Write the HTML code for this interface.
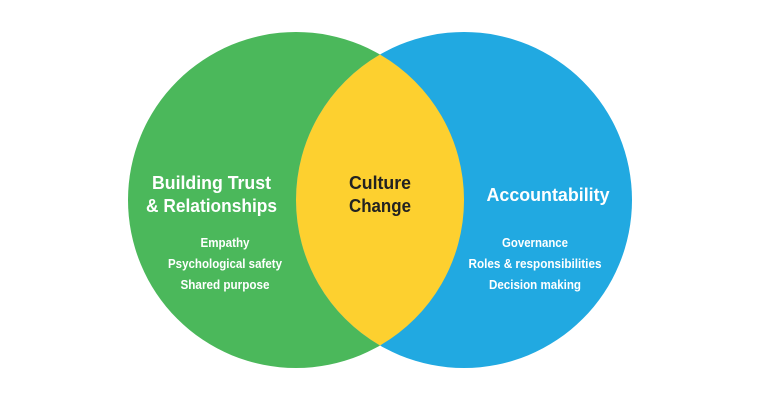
<!DOCTYPE html>
<html><head><meta charset="utf-8"><style>
html,body{margin:0;padding:0;background:#fff}
svg{display:block}
text{font-family:"Liberation Sans",sans-serif;font-weight:bold;text-anchor:middle}
</style></head><body>
<svg width="760" height="400" viewBox="0 0 760 400">
<circle cx="296" cy="200" r="168" fill="#4bb85b"/>
<circle cx="464" cy="200" r="168" fill="#21a9e1"/>
<path d="M380 54.5 A168 168 0 0 1 380 345.5 A168 168 0 0 1 380 54.5Z" fill="#fdd02f"/>
<g fill="#fff">
<text x="211.5" y="189" font-size="18" textLength="119" lengthAdjust="spacingAndGlyphs">Building Trust</text>
<text x="211.5" y="212" font-size="18" textLength="131" lengthAdjust="spacingAndGlyphs">&amp; Relationships</text>
<text x="225" y="247" font-size="12.5" textLength="49" lengthAdjust="spacingAndGlyphs">Empathy</text>
<text x="225" y="268" font-size="12.5" textLength="114" lengthAdjust="spacingAndGlyphs">Psychological safety</text>
<text x="225" y="289" font-size="12.5" textLength="89" lengthAdjust="spacingAndGlyphs">Shared purpose</text>
<text x="548" y="201" font-size="18" textLength="123" lengthAdjust="spacingAndGlyphs">Accountability</text>
<text x="535" y="247" font-size="12.5" textLength="66" lengthAdjust="spacingAndGlyphs">Governance</text>
<text x="535" y="268" font-size="12.5" textLength="133" lengthAdjust="spacingAndGlyphs">Roles &amp; responsibilities</text>
<text x="535" y="289" font-size="12.5" textLength="92" lengthAdjust="spacingAndGlyphs">Decision making</text>
</g>
<g fill="#222">
<text x="380" y="189" font-size="18" textLength="62" lengthAdjust="spacingAndGlyphs">Culture</text>
<text x="380" y="212" font-size="18" textLength="62" lengthAdjust="spacingAndGlyphs">Change</text>
</g>
</svg>
</body></html>
